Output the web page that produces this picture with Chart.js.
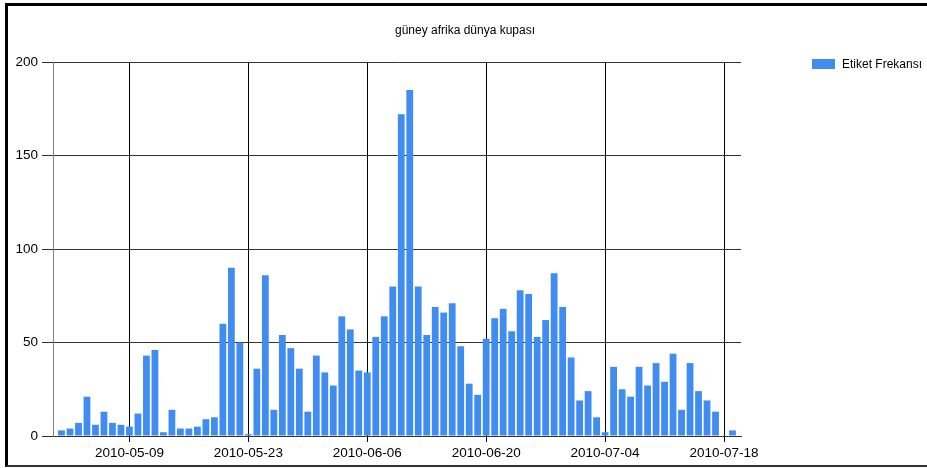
<!DOCTYPE html>
<html>
<head>
<meta charset="utf-8">
<title>güney afrika dünya kupası</title>
<script src="https://cdn.jsdelivr.net/npm/chart.js@4.4.0/dist/chart.umd.min.js"></script>
<style>
  html, body { margin: 0; padding: 0; background: #fff; }
  #wrap { position: relative; width: 927px; height: 468px; overflow: hidden; }
  #wrap canvas { position: absolute; left: 0; top: 0; }
  #frame {
    position: absolute; left: 5px; top: 3px; width: 940px; height: 459px;
    border-left: 3px solid #000; border-top: 3px solid #000; border-bottom: 2px solid #333;
    pointer-events: none;
  }
</style>
</head>
<body>
<div id="wrap">
  <canvas id="tagChart" width="927" height="468"></canvas>
  <div id="frame"></div>
</div>
<script>
const chartTitle = 'güney afrika dünya kupası';
const seriesName = 'Etiket Frekansı';

// axis runs one day either side of the data
const axisStart = '2010-04-30';
const axisEnd = '2010-07-20';
const firstDate = '2010-05-01';
const tickDates = ['2010-05-09', '2010-05-23', '2010-06-06', '2010-06-20', '2010-07-04', '2010-07-18'];
const yTicks = [0, 50, 100, 150, 200];

// one value per day, starting at firstDate
const mayCounts = [3, 4, 7, 21, 6, 13, 7, 6, 5, 12, 43, 46, 2, 14, 4, 4, 5, 9, 10, 60, 90, 50, 1, 36, 86, 14, 54, 47, 36, 13, 43];
const juneCounts = [34, 27, 64, 57, 35, 34, 53, 64, 80, 172, 185, 80, 54, 69, 66, 71, 48, 28, 22, 52, 63, 68, 56, 78, 76, 53, 62, 87, 69, 42];
const julyCounts = [19, 24, 10, 2, 37, 25, 21, 37, 27, 39, 29, 44, 14, 39, 24, 19, 13, 0, 3];

const barColor = '#418CF0';
const fontFamily = '"Liberation Sans", Arial, sans-serif';

const DAY = 86400000;
function toTime(s) {
    const [y, m, d] = s.split('-').map(Number);
    return Date.UTC(y, m - 1, d);
}
function dayIndex(s) {
    return Math.round((toTime(s) - toTime(axisStart)) / DAY);
}
function dayLabel(v) {
    return new Date(toTime(axisStart) + v * DAY).toISOString().slice(0, 10);
}

const counts = mayCounts.concat(juneCounts, julyCounts);
const offset = dayIndex(firstDate);
const points = counts.map((c, i) => ({ x: offset + i, y: c }));

// title + legend drawn to the right of the plot, like the original
const chromePlugin = {
    id: 'chrome',
    afterDraw(chart) {
        const c = chart.ctx;
        const ds = chart.data.datasets[0];
        c.save();
        c.font = '12px ' + fontFamily;
        c.fillStyle = '#000';
        c.textAlign = 'center';
        c.textBaseline = 'middle';
        c.fillText(chartTitle, 465, 31);

        c.fillStyle = ds.backgroundColor;
        c.fillRect(812, 59, 23, 10);
        c.fillStyle = '#000';
        c.textAlign = 'left';
        c.fillText(ds.label, 842, 64.5);
        c.restore();
    }
};

const ctx = document.getElementById('tagChart').getContext('2d');
const tagChart = new Chart(ctx, {
    type: 'bar',
    data: {
        datasets: [{
            label: seriesName,
            data: points,
            backgroundColor: barColor,
            borderWidth: 0,
            barPercentage: 0.8,
            categoryPercentage: 1.0
        }]
    },
    options: {
        responsive: false,
        animation: false,
        layout: { padding: { top: 62, right: 186, bottom: 0, left: 0 } },
        plugins: {
            legend: { display: false },
            title: { display: false },
            tooltip: { enabled: false }
        },
        scales: {
            x: {
                type: 'linear',
                min: 0,
                max: dayIndex(axisEnd),
                offset: false,
                grid: { offset: false, color: '#000', tickLength: 6 },
                border: { color: '#333' },
                afterBuildTicks: s => { s.ticks = tickDates.map(d => ({ value: dayIndex(d) })); },
                afterFit: s => { s.height = 32; },
                ticks: {
                    callback: v => dayLabel(v),
                    color: '#000',
                    font: { family: fontFamily, size: 13.5 },
                    padding: 3,
                    maxRotation: 0,
                    autoSkip: false
                }
            },
            y: {
                min: 0,
                max: 200,
                grid: { color: '#333', tickLength: 11 },
                border: { color: '#808080' },
                afterBuildTicks: s => { s.ticks = yTicks.map(v => ({ value: v })); },
                afterFit: s => { s.width = 53; },
                ticks: {
                    color: '#000',
                    font: { family: fontFamily, size: 13.5 },
                    padding: 4
                }
            }
        }
    },
    plugins: [chromePlugin]
});
</script>
</body>
</html>
